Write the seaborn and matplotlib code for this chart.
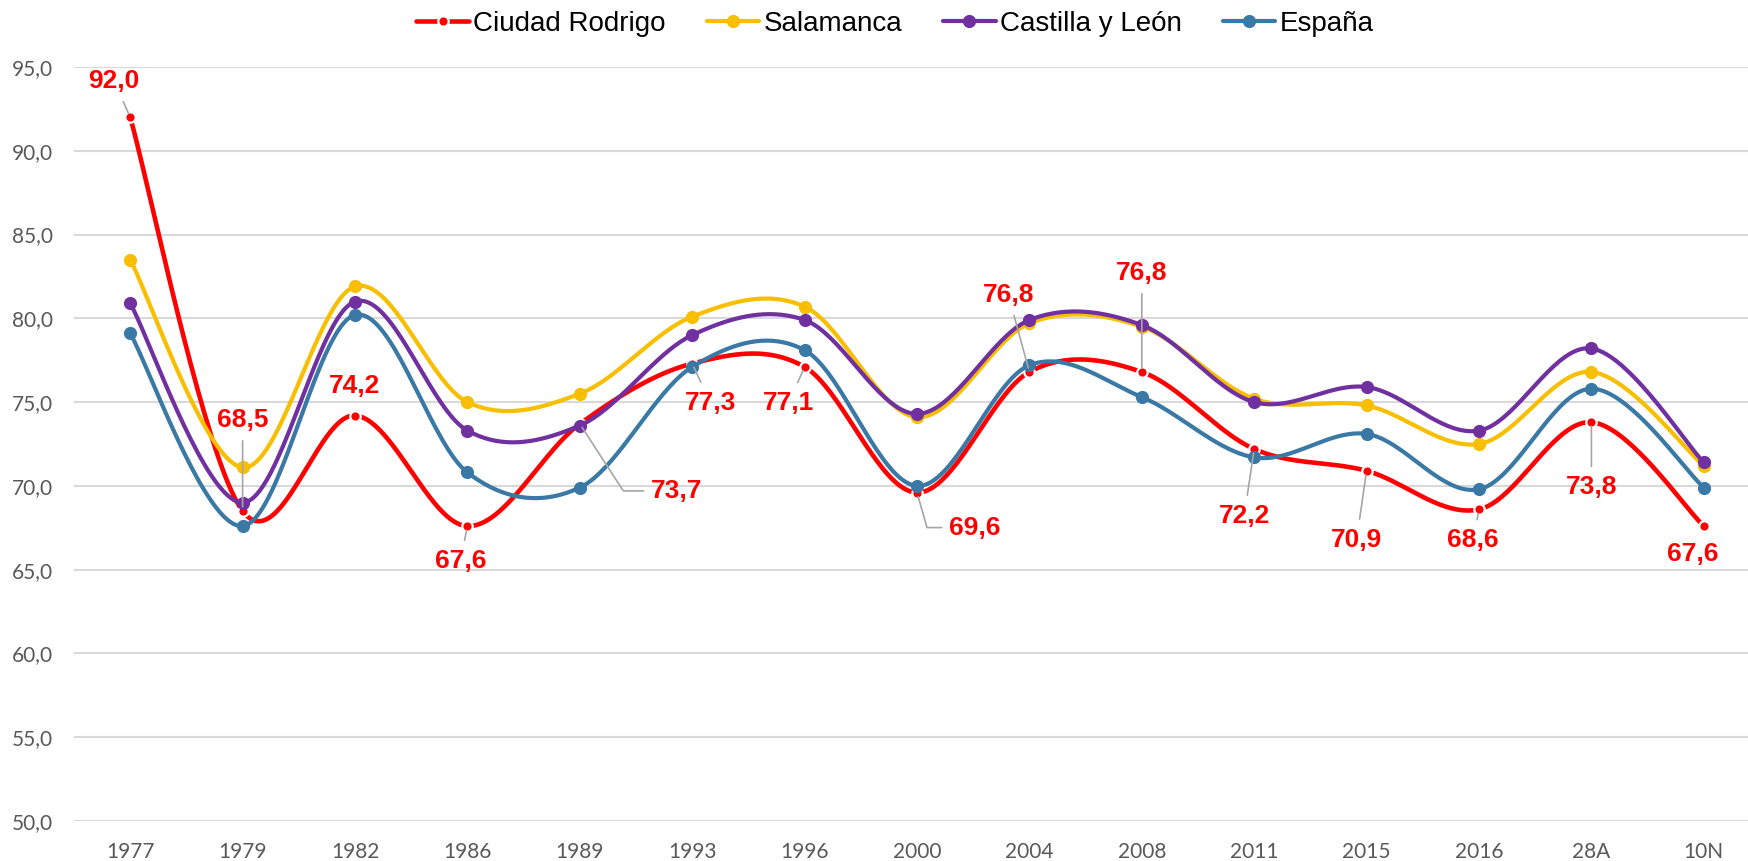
import numpy as np
import pandas as pd
import matplotlib
matplotlib.use("Agg")
import matplotlib.pyplot as plt
from matplotlib.lines import Line2D
from matplotlib.ticker import FuncFormatter
import seaborn as sns

# Data
categories = ["1977", "1979", "1982", "1986", "1989", "1993", "1996", "2000",
              "2004", "2008", "2011", "2015", "2016", "28A", "10N"]
ciudad_rodrigo = [92.0, 68.5, 74.2, 67.6, 73.7, 77.3, 77.1, 69.6, 76.8, 76.8, 72.2, 70.9, 68.6, 73.8, 67.6]
salamanca = [83.5, 71.1, 81.9, 75.0, 75.5, 80.1, 80.7, 74.1, 79.7, 79.5, 75.2, 74.8, 72.5, 76.8, 71.2]
castilla_leon = [80.9, 69.0, 81.0, 73.3, 73.6, 79.0, 79.9, 74.3, 79.9, 79.6, 75.0, 75.9, 73.3, 78.2, 71.4]
espana = [79.1, 67.6, 80.2, 70.8, 69.9, 77.1, 78.1, 70.0, 77.2, 75.3, 71.7, 73.1, 69.8, 75.8, 69.9]

# label offsets (pixels) for the Ciudad Rodrigo data labels, and leader line style
label_offsets = [(-16, 36), (0, 91), (0, 30), (-7, -35), (97, -67), (18, -39), (-16, -36), (58, -35),
                 (-21, 77), (0, 99), (-10, -67), (-10, -69), (-6, -31), (0, -65), (-11, -28)]
# None = no leader, "s" = straight leader, number = elbow leader with that angle at the point
leaders = ["s", "s", None, "s", -57, "s", "s", -74,
           "s", "s", "s", "s", "s", "s", None]


def excel_smooth(y, n=40):
    # Excel-like smoothed line: Catmull-Rom via cubic Bezier segments
    pts = np.column_stack([np.arange(len(y), dtype=float), np.asarray(y, dtype=float)])
    out = []
    for i in range(len(pts) - 1):
        p0 = pts[i - 1] if i > 0 else pts[i]
        p1, p2 = pts[i], pts[i + 1]
        p3 = pts[i + 2] if i + 2 < len(pts) else pts[i + 1]
        c1 = p1 + (p2 - p0) / 6
        c2 = p2 - (p3 - p1) / 6
        t = np.linspace(0, 1, n)[:, None]
        seg = (1 - t) ** 3 * p1 + 3 * (1 - t) ** 2 * t * c1 + 3 * (1 - t) * t ** 2 * c2 + t ** 3 * p2
        out.append(seg if i == 0 else seg[1:])
    return np.vstack(out)


series = [
    ("Ciudad Rodrigo", ciudad_rodrigo, "#FF0000"),
    ("Salamanca", salamanca, "#F8BE00"),
    ("Castilla y León", castilla_leon, "#7030A0"),
    ("España", espana, "#3A79A5"),
]

sns.set_style("white")
plt.rcParams["font.family"] = ["Lato", "DejaVu Sans"]
arial = ["Liberation Sans", "DejaVu Sans"]

fig = plt.figure(figsize=(17.48, 8.61), dpi=100)
ax = fig.add_axes([74 / 1748, 40 / 861, 1686 / 1748, 754 / 861])

handles = []
for k, (name, vals, col) in enumerate(series):
    sm = excel_smooth(vals)
    df = pd.DataFrame({"x": sm[:, 0], "y": sm[:, 1]})
    lw = 3.3 if k == 0 else 3.0
    sns.lineplot(data=df, x="x", y="y", sort=False, estimator=None, color=col,
                 linewidth=lw, ax=ax, zorder=2 + k)
    pts = pd.DataFrame({"x": np.arange(len(vals)), "y": vals})
    if k == 0:
        ax.plot(pts["x"], pts["y"], "o", color=col, markersize=7.5,
                markeredgecolor="white", markeredgewidth=1.6, zorder=2 + k)
        handles.append(Line2D([], [], color=col, lw=lw, marker="o", markersize=7.5,
                              markeredgecolor="white", markeredgewidth=1.6, label=name))
    else:
        ax.plot(pts["x"], pts["y"], "o", color=col, markersize=9.5,
                markeredgewidth=0, zorder=2 + k)
        handles.append(Line2D([], [], color=col, lw=lw, marker="o", markersize=9.5,
                              markeredgewidth=0, label=name))

# data labels for Ciudad Rodrigo
for i, v in enumerate(ciudad_rodrigo):
    txt = f"{v:.1f}".replace(".", ",")
    ld = leaders[i]
    if ld is None:
        props = None
    elif ld == "s":
        props = dict(arrowstyle="-", color="#A6A6A6", lw=1.2, shrinkA=4, shrinkB=3)
    else:
        props = dict(arrowstyle="-", color="#A6A6A6", lw=1.2, shrinkA=3, shrinkB=3,
                     relpos=(0, 0.5), connectionstyle=f"angle,angleA=0,angleB={ld},rad=0")
    ax.annotate(txt, xy=(i, v), xytext=label_offsets[i], textcoords="offset pixels",
                ha="center", va="center", color="#FF0000", fontsize=19, fontweight="bold",
                family=arial, arrowprops=props, zorder=10)

ax.set_xlim(-0.5, len(categories) - 0.5)
ax.set_ylim(50, 95)
ax.set_xticks(range(len(categories)))
ax.set_xticklabels(categories)
ax.set_yticks(np.arange(50, 95.1, 5))
ax.yaxis.set_major_formatter(FuncFormatter(lambda v, p: f"{v:.1f}".replace(".", ",")))
ax.tick_params(axis="both", length=0, labelsize=15, labelcolor="#595959")
ax.tick_params(axis="y", pad=15)
ax.tick_params(axis="x", pad=15)
ax.set_xlabel("")
ax.set_ylabel("")
ax.grid(axis="y", color="#D9D9D9", linewidth=1.5, zorder=0)
ax.set_axisbelow(True)
for s in ax.spines.values():
    s.set_visible(False)

fig.legend(handles=handles, loc="center", bbox_to_anchor=(0.512, 0.972), ncol=4,
           frameon=False, handlelength=1.9, columnspacing=1.47, handletextpad=0.15,
           labelcolor="black", prop={"family": arial, "size": 20})

fig.savefig("out.png", dpi=100)
